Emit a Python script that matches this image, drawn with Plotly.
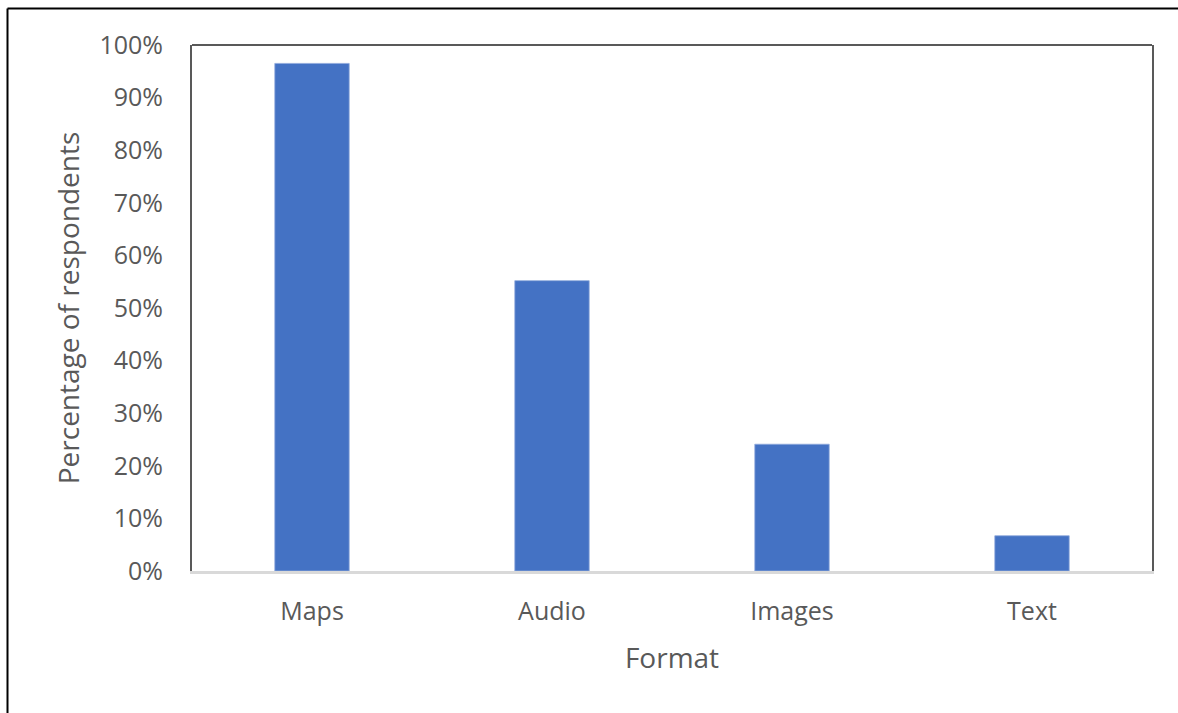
import plotly.graph_objects as go

# Survey results: preferred information format
formats = ["Maps", "Audio", "Images", "Text"]
share = [0.965, 0.552, 0.241, 0.067]

BAR_BLUE = "#4472C4"
TEXT_GREY = "#595959"
FONT = "Open Sans"

fig = go.Figure(
    go.Bar(
        x=formats,
        y=share,
        marker=dict(color=BAR_BLUE, line=dict(color="#8faadc", width=0.8)),
        hoverinfo="skip",
    )
)

W, H = 1178, 713
L, R, T, B = 192, 26, 45, 142
pw, ph = W - L - R, H - T - B


def px_x(px):
    return (px - L) / pw


def px_y(py):
    return (H - B - py) / ph


shapes = [
    # top edge of the plot frame
    dict(type="line", xref="paper", yref="paper", x0=0, x1=1, y0=1, y1=1,
         line=dict(color=TEXT_GREY, width=2)),
    # outer chart border (left and top)
    dict(type="line", xref="paper", yref="paper",
         x0=px_x(7.5), x1=px_x(7.5), y0=px_y(8.5), y1=px_y(730),
         line=dict(color="black", width=2)),
    dict(type="line", xref="paper", yref="paper",
         x0=px_x(7.5), x1=px_x(1200), y0=px_y(8.5), y1=px_y(8.5),
         line=dict(color="black", width=2)),
]

fig.update_layout(
    width=W,
    height=H,
    margin=dict(l=L, r=R, t=T, b=B),
    paper_bgcolor="white",
    plot_bgcolor="white",
    bargap=0.69,
    showlegend=False,
    shapes=shapes,
    font=dict(family=FONT, color=TEXT_GREY),
    xaxis=dict(
        showline=True,
        linecolor="#d9d9d9",
        linewidth=3,
        showgrid=False,
        ticks="",
        tickfont=dict(size=25, family=FONT, color=TEXT_GREY),
        ticklabelstandoff=16,
        title=dict(text="Format", font=dict(size=28, family=FONT, color=TEXT_GREY),
                   standoff=23),
    ),
    yaxis=dict(
        range=[0, 1],
        dtick=0.1,
        tickformat=".0%",
        showline=True,
        mirror=True,
        linecolor=TEXT_GREY,
        linewidth=2,
        showgrid=False,
        zeroline=False,
        ticks="",
        tickfont=dict(size=25, family=FONT, color=TEXT_GREY),
        ticklabelstandoff=22,
        title=dict(text="Percentage of respondents",
                   font=dict(size=28, family=FONT, color=TEXT_GREY), standoff=12),
    ),
)

fig.write_html("out.html")
